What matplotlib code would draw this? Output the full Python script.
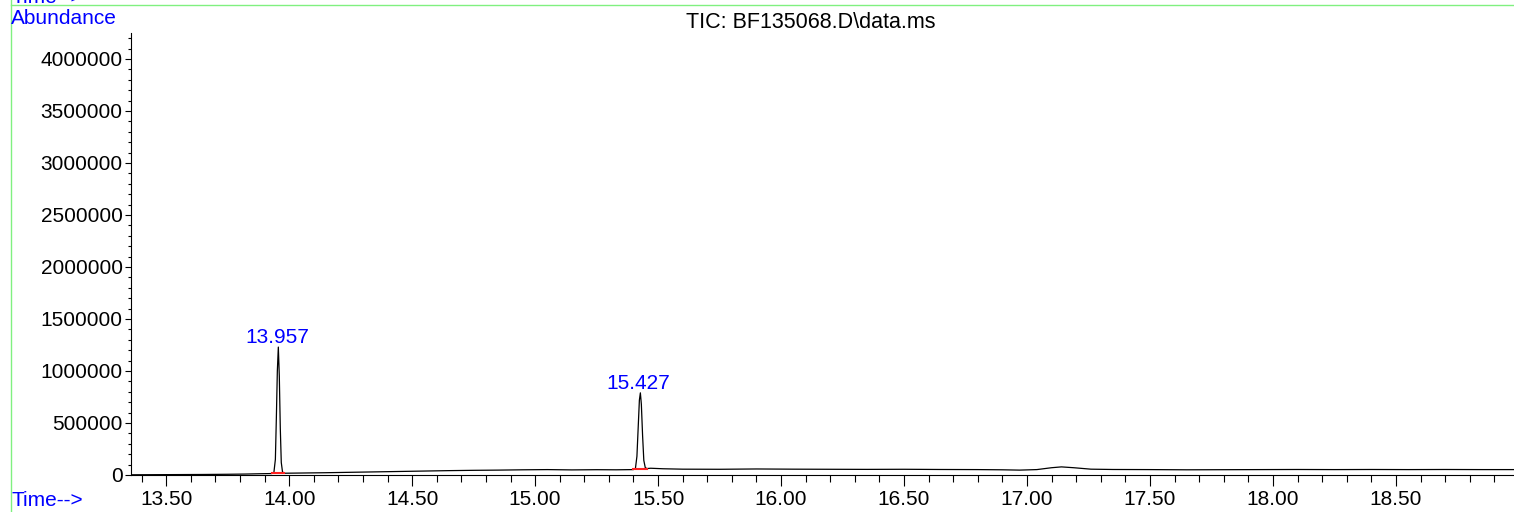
import matplotlib
matplotlib.use("Agg")
import matplotlib.pyplot as plt
from matplotlib.lines import Line2D
from matplotlib.ticker import MultipleLocator, FormatStrFormatter, FuncFormatter

plt.rcParams['font.family'] = ['Liberation Sans', 'DejaVu Sans']

# TIC trace (time in min, abundance)
time = [13.357, 13.45, 13.55, 13.65, 13.75, 13.82, 13.88, 13.93,
        13.938, 13.944, 13.948, 13.952, 13.956, 13.960, 13.964, 13.968, 13.973, 13.980,
        14.05, 14.15, 14.25, 14.35, 14.45, 14.55, 14.65, 14.75, 14.85, 14.95,
        15.05, 15.15, 15.25, 15.33, 15.40,
        15.408, 15.414, 15.419, 15.424, 15.428, 15.432, 15.437, 15.442, 15.448, 15.455,
        15.47, 15.52, 15.60, 15.75, 15.90, 16.05, 16.20, 16.35, 16.50, 16.65,
        16.80, 16.90, 16.97, 17.04, 17.10, 17.14, 17.19, 17.26, 17.35, 17.50,
        17.65, 17.80, 17.95, 18.10, 18.25, 18.40, 18.55, 18.70, 18.85, 18.98]
abundance = [2000, 3000, 4000, 5000, 7000, 9000, 12000, 14000,
             25000, 150000, 550000, 1000000, 1230000, 950000, 450000, 120000, 30000, 17000,
             19000, 22000, 26000, 30000, 34000, 38000, 42000, 45000, 47000, 50000,
             52000, 49000, 51000, 50000, 52000,
             65000, 180000, 450000, 720000, 790000, 680000, 380000, 140000, 70000, 62000,
             65000, 60000, 56000, 55000, 58000, 56000, 55000, 54000, 55000, 53000,
             52000, 50000, 47000, 52000, 70000, 78000, 70000, 56000, 53000, 52000,
             50000, 51000, 52000, 53000, 52000, 53000, 52000, 53000, 52000, 52000]

# integrated peaks: label, integration start, end, baseline level
peak_rt = [13.957, 15.427]
peak_top = [1230000, 790000]
peak_start = [13.930, 15.400]
peak_end = [13.980, 15.455]
peak_base = [15000, 53000]

fig = plt.figure(figsize=(15.14, 5.12), dpi=100)
ax = fig.add_axes([131 / 1514, 1 - 475 / 512, 1 - 131 / 1514, (475 - 33) / 512])

ax.plot(time, abundance, color='black', lw=0.9)
for t0, t1, b in zip(peak_start, peak_end, peak_base):
    ax.plot([t0, t1], [b, b], color='#ff2020', lw=1.5)
for rt, top in zip(peak_rt, peak_top):
    ax.annotate(f"{rt:.3f}", (rt, top), xytext=(-1, 0), textcoords='offset points',
                ha='center', va='bottom', color='blue', fontsize=15)

ax.set_xlim(13.357, 18.98)
ax.set_ylim(0, 4250000)
ax.spines['top'].set_visible(False)
ax.spines['right'].set_visible(False)
ax.spines['left'].set_linewidth(0.8)
ax.spines['bottom'].set_linewidth(0.8)

ax.xaxis.set_major_locator(MultipleLocator(0.5))
ax.xaxis.set_minor_locator(MultipleLocator(0.1))
ax.xaxis.set_major_formatter(FormatStrFormatter('%.2f'))
ax.yaxis.set_major_locator(MultipleLocator(500000))
ax.yaxis.set_minor_locator(MultipleLocator(100000))
ax.yaxis.set_major_formatter(FuncFormatter(lambda v, p: f"{int(v)}"))
ax.tick_params(axis='x', which='major', length=8, width=0.8, pad=3, labelsize=15)
ax.tick_params(axis='x', which='minor', length=5, width=0.8)
ax.tick_params(axis='y', which='major', length=4, width=0.8, pad=2, labelsize=15)
ax.tick_params(axis='y', which='minor', length=2, width=0.8)

fig.text(811 / 1514, 1 - 23 / 512, 'TIC: BF135068.D\\data.ms', fontsize=15.5,
         ha='center', va='center')
fig.text(11 / 1514, 1 - 18 / 512, 'Abundance', color='blue', fontsize=15, va='center')
fig.text(11 / 1514, 1 - 500 / 512, 'Time-->', color='blue', fontsize=15, va='center')
fig.text(11 / 1514, 1 - 3 / 512, 'Time-->', color='blue', fontsize=15, va='baseline')

# green frame lines
fig.add_artist(Line2D([11 / 1514, 11 / 1514], [0, 1], color='#80f080', lw=1.0))
fig.add_artist(Line2D([11 / 1514, 1], [1 - 5 / 512, 1 - 5 / 512], color='#80f080', lw=1.0))

fig.savefig('out.png', dpi=100)
